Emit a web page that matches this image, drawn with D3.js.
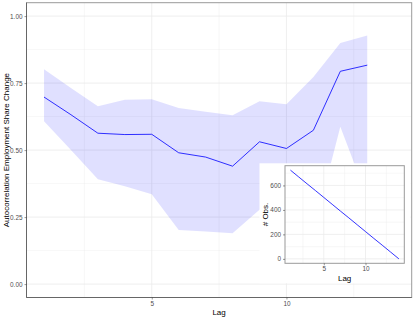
<!DOCTYPE html>
<html>
<head>
<meta charset="utf-8">
<script src="https://cdn.jsdelivr.net/npm/d3@7"></script>
<style>
  body { margin: 0; background: #fff; }
  text { font-family: "Liberation Sans", Arial, sans-serif; }
</style>
</head>
<body>
<div id="chart"></div>
<script>
// data
const lags = [1, 2, 3, 4, 5, 6, 7, 8, 9, 10, 11, 12, 13, 14];
const acf = [0.698, 0.632, 0.563, 0.558, 0.559, 0.490, 0.474, 0.440, 0.531, 0.506, 0.574, 0.794, 0.817, null];
const upper = [0.802, 0.732, 0.664, 0.688, 0.690, 0.657, 0.643, 0.630, 0.682, 0.671, 0.773, 0.900, 0.928, null];
const lower = [0.608, 0.500, 0.391, 0.365, 0.335, 0.202, 0.196, 0.190, 0.277, 0.300, 0.196, 0.587, 0.323, null];
const nObs = [725, 669, 613, 558, 502, 446, 390, 335, 279, 223, 167, 112, 56, 0];
const yTicks = [0, 0.25, 0.5, 0.75, 1];
const xTicks = [5, 10];
const obsTicks = [0, 200, 400, 600];

const W = 415, H = 318;
const svg = d3.select("#chart").append("svg")
    .attr("width", W).attr("height", H);

const gridCol = "#ebebeb";
const tickCol = "#4d4d4d";

// main panel
const panel = {left: 26.5, top: 2.7, right: 411.7, bottom: 297.5};

const x = d3.scaleLinear().domain([0.35, 14.65]).range([panel.left, panel.right]);
const y = d3.scaleLinear().domain([-0.05, 1.05]).range([panel.bottom, panel.top]);

const rows = lags.map((l, i) => ({lag: l, v: acf[i], lo: lower[i], hi: upper[i], n: nObs[i]}));

// grid
const g = svg.append("g");
const yMinor = yTicks.slice(0, -1).map(d => d + 0.125);
g.selectAll(".ymin").data(yMinor).enter().append("line")
    .attr("x1", panel.left).attr("x2", panel.right)
    .attr("y1", d => y(d)).attr("y2", d => y(d))
    .attr("stroke", gridCol).attr("stroke-width", 0.4);
g.selectAll(".xmin").data([2.5, 7.5, 12.5]).enter().append("line")
    .attr("x1", d => x(d)).attr("x2", d => x(d))
    .attr("y1", panel.top).attr("y2", panel.bottom)
    .attr("stroke", gridCol).attr("stroke-width", 0.4);
g.selectAll(".ymaj").data(yTicks).enter().append("line")
    .attr("x1", panel.left).attr("x2", panel.right)
    .attr("y1", d => y(d)).attr("y2", d => y(d))
    .attr("stroke", gridCol).attr("stroke-width", 0.8);
g.selectAll(".xmaj").data(xTicks).enter().append("line")
    .attr("x1", d => x(d)).attr("x2", d => x(d))
    .attr("y1", panel.top).attr("y2", panel.bottom)
    .attr("stroke", gridCol).attr("stroke-width", 0.8);

// ribbon + line
const ok = rows.filter(d => d.v != null);
svg.append("path")
    .datum(ok)
    .attr("d", d3.area().x(d => x(d.lag)).y0(d => y(d.lo)).y1(d => y(d.hi)))
    .attr("fill", "#0000ff").attr("fill-opacity", 0.12);
svg.append("path")
    .datum(ok)
    .attr("d", d3.line().x(d => x(d.lag)).y(d => y(d.v)))
    .attr("fill", "none").attr("stroke", "#0000ff").attr("stroke-width", 0.8);

// border
svg.append("rect")
    .attr("x", panel.left).attr("y", panel.top)
    .attr("width", panel.right - panel.left).attr("height", panel.bottom - panel.top)
    .attr("fill", "none").attr("stroke", "#9a9a9a").attr("stroke-width", 1);
svg.append("path")
    .attr("d", `M${panel.left},${panel.top}V${panel.bottom}H${panel.right}`)
    .attr("fill", "none").attr("stroke", "#666").attr("stroke-width", 1);

// axes
const yAxis = svg.append("g")
    .attr("transform", `translate(${panel.left},0)`)
    .call(d3.axisLeft(y).tickValues(yTicks).tickFormat(d3.format(".2f")).tickSize(2).tickPadding(2));
const xAxis = svg.append("g")
    .attr("transform", `translate(0,${panel.bottom})`)
    .call(d3.axisBottom(x).tickValues(xTicks).tickSize(2).tickPadding(1.5));
[yAxis, xAxis].forEach(a => {
  a.select(".domain").remove();
  a.selectAll(".tick line").attr("stroke", "#333").attr("stroke-width", 0.5);
  a.selectAll(".tick text").attr("fill", tickCol).style("font-size", "6.4px")
      .style("font-family", "'Liberation Sans', Arial, sans-serif");
});

svg.append("text")
    .attr("x", x(7.5)).attr("y", 314.5)
    .attr("text-anchor", "middle").style("font-size", "8px")
    .text("Lag");
svg.append("text")
    .attr("transform", `translate(8.5,${(panel.top + panel.bottom) / 2}) rotate(-90)`)
    .attr("text-anchor", "middle").style("font-size", "8px")
    .text("Autocorrelation Employment Share Change");

// inset
svg.append("rect")
    .attr("x", 259.5).attr("y", 163.3).attr("width", 151).attr("height", 120)
    .attr("fill", "#fff");

const ip = {left: 285, top: 165.7, right: 404.3, bottom: 263.3};
const ix = d3.scaleLinear().domain([0.35, 14.65]).range([ip.left, ip.right]);
const iy = d3.scaleLinear().domain([-36.25, 761.25]).range([ip.bottom, ip.top]);

const ig = svg.append("g");
ig.selectAll(".ymin").data([100, 300, 500, 700]).enter().append("line")
    .attr("x1", ip.left).attr("x2", ip.right)
    .attr("y1", d => iy(d)).attr("y2", d => iy(d))
    .attr("stroke", gridCol).attr("stroke-width", 0.4);
ig.selectAll(".xmin").data([2.5, 7.5, 12.5]).enter().append("line")
    .attr("x1", d => ix(d)).attr("x2", d => ix(d))
    .attr("y1", ip.top).attr("y2", ip.bottom)
    .attr("stroke", gridCol).attr("stroke-width", 0.4);
ig.selectAll(".ymaj").data(obsTicks).enter().append("line")
    .attr("x1", ip.left).attr("x2", ip.right)
    .attr("y1", d => iy(d)).attr("y2", d => iy(d))
    .attr("stroke", gridCol).attr("stroke-width", 0.8);
ig.selectAll(".xmaj").data(xTicks).enter().append("line")
    .attr("x1", d => ix(d)).attr("x2", d => ix(d))
    .attr("y1", ip.top).attr("y2", ip.bottom)
    .attr("stroke", gridCol).attr("stroke-width", 0.8);

svg.append("path")
    .datum(rows)
    .attr("d", d3.line().x(d => ix(d.lag)).y(d => iy(d.n)))
    .attr("fill", "none").attr("stroke", "#0000ff").attr("stroke-width", 0.8);

svg.append("rect")
    .attr("x", ip.left).attr("y", ip.top)
    .attr("width", ip.right - ip.left).attr("height", ip.bottom - ip.top)
    .attr("fill", "none").attr("stroke", "#9a9a9a").attr("stroke-width", 1);

const iyAxis = svg.append("g")
    .attr("transform", `translate(${ip.left},0)`)
    .call(d3.axisLeft(iy).tickValues(obsTicks).tickSize(2).tickPadding(2));
const ixAxis = svg.append("g")
    .attr("transform", `translate(0,${ip.bottom})`)
    .call(d3.axisBottom(ix).tickValues(xTicks).tickSize(2).tickPadding(1.5));
[iyAxis, ixAxis].forEach(a => {
  a.select(".domain").remove();
  a.selectAll(".tick line").attr("stroke", "#333").attr("stroke-width", 0.5);
  a.selectAll(".tick text").attr("fill", tickCol).style("font-size", "6.4px")
      .style("font-family", "'Liberation Sans', Arial, sans-serif");
});

svg.append("text")
    .attr("x", ix(7.5)).attr("y", 280.5)
    .attr("text-anchor", "middle").style("font-size", "8px")
    .text("Lag");
svg.append("text")
    .attr("transform", `translate(267.5,${(ip.top + ip.bottom) / 2}) rotate(-90)`)
    .attr("text-anchor", "middle").style("font-size", "8px")
    .text("# Obs.");
</script>
</body>
</html>
